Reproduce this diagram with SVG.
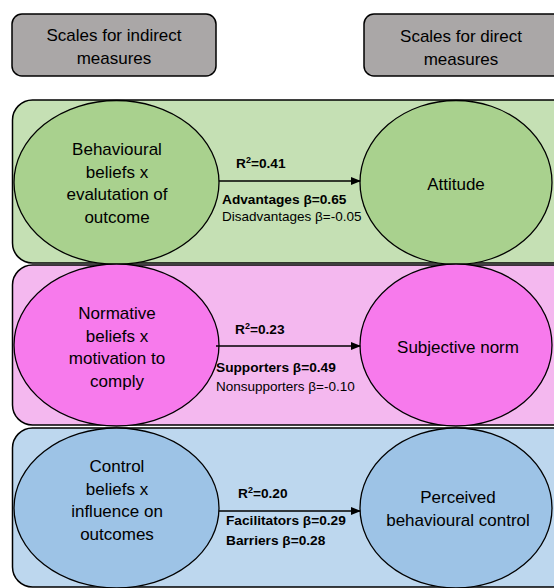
<svg xmlns="http://www.w3.org/2000/svg" width="554" height="588" viewBox="0 0 554 588">
<defs>
<style>
text{font-family:"Liberation Sans",Arial,sans-serif;fill:#000}
.hdr{fill:#aaa7a7;stroke:#000;stroke-width:1.5}
.pan{stroke:#000;stroke-width:1.5}
.ell{stroke:#000;stroke-width:1.3}
.n{font-size:17px;text-anchor:middle}
.l{font-size:13.5px}
.b{font-size:13.7px;font-weight:bold}
.conn{stroke:#000;stroke-width:1.5;fill:none;marker-end:url(#ah)}
</style>
<marker id="ah" markerWidth="10" markerHeight="8" refX="9" refY="4" orient="auto" markerUnits="userSpaceOnUse">
<path d="M0,0 L10,4 L0,8 z" fill="#000"/>
</marker>
</defs>
<g id="hdr-indirect">
<rect class="hdr" x="12" y="14" width="204" height="62" rx="10"/>
<text class="n" x="114" y="41">Scales for indirect</text>
<text class="n" x="114" y="64">measures</text>
</g>
<g id="hdr-direct">
<rect class="hdr" x="364" y="14" width="200" height="62" rx="10"/>
<text class="n" x="461" y="42">Scales for direct</text>
<text class="n" x="461" y="65">measures</text>
</g>
<g id="panel-attitude">
<rect class="pan" x="12.5" y="100" width="560" height="163" rx="20" fill="#c5e0b4"/>
</g>
<g id="panel-norm">
<rect class="pan" x="12.5" y="265" width="560" height="160" rx="20" fill="#f4b8ef"/>
</g>
<g id="panel-control">
<rect class="pan" x="12.5" y="428" width="560" height="159" rx="20" fill="#bdd7ee"/>
</g>
<g id="behavioural-beliefs">
<ellipse class="ell" cx="116.5" cy="182.5" rx="102.5" ry="82" fill="#a9d18e"/>
<text class="n" x="117" y="155">Behavioural</text>
<text class="n" x="117" y="178">beliefs x</text>
<text class="n" x="117" y="200">evalutation of</text>
<text class="n" x="117" y="223">outcome</text>
</g>
<g id="attitude">
<ellipse class="ell" cx="456" cy="182.5" rx="96" ry="82" fill="#a9d18e"/>
<text class="n" x="456" y="190">Attitude</text>
</g>
<g id="normative-beliefs">
<ellipse class="ell" cx="116.5" cy="345" rx="102.5" ry="81" fill="#f77aec"/>
<text class="n" x="117" y="319">Normative</text>
<text class="n" x="117" y="342">beliefs x</text>
<text class="n" x="117" y="364">motivation to</text>
<text class="n" x="117" y="387">comply</text>
</g>
<g id="subjective-norm">
<ellipse class="ell" cx="456" cy="345" rx="96" ry="81" fill="#f77aec"/>
<text class="n" x="458" y="353">Subjective norm</text>
</g>
<g id="control-beliefs">
<ellipse class="ell" cx="116.5" cy="508" rx="102.5" ry="80" fill="#9dc3e6"/>
<text class="n" x="117" y="472">Control</text>
<text class="n" x="117" y="495">beliefs x</text>
<text class="n" x="117" y="517">influence on</text>
<text class="n" x="117" y="540">outcomes</text>
</g>
<g id="perceived-control">
<ellipse class="ell" cx="456" cy="508" rx="96" ry="80" fill="#9dc3e6"/>
<text class="n" x="458" y="503">Perceived</text>
<text class="n" x="458" y="526">behavioural control</text>
</g>
<g id="connectors">
<line class="conn" x1="219" y1="181" x2="360" y2="181"/>
<line class="conn" x1="216" y1="346" x2="360" y2="346"/>
<line class="conn" x1="219" y1="511" x2="360" y2="511"/>
</g>
<g id="labels">
<text class="b" x="236" y="168">R<tspan font-size="9" dy="-5">2</tspan><tspan dy="5">=0.41</tspan></text>
<text class="b" x="222" y="204">Advantages β=0.65</text>
<text class="l" x="222" y="221">Disadvantages β=-0.05</text>
<text class="b" x="235" y="334">R<tspan font-size="9" dy="-5">2</tspan><tspan dy="5">=0.23</tspan></text>
<text class="b" x="216" y="372">Supporters β=0.49</text>
<text class="l" x="216" y="391">Nonsupporters β=-0.10</text>
<text class="b" x="238" y="498">R<tspan font-size="9" dy="-5">2</tspan><tspan dy="5">=0.20</tspan></text>
<text class="b" x="226" y="525">Facilitators β=0.29</text>
<text class="b" x="226" y="545">Barriers β=0.28</text>
</g>
</svg>
